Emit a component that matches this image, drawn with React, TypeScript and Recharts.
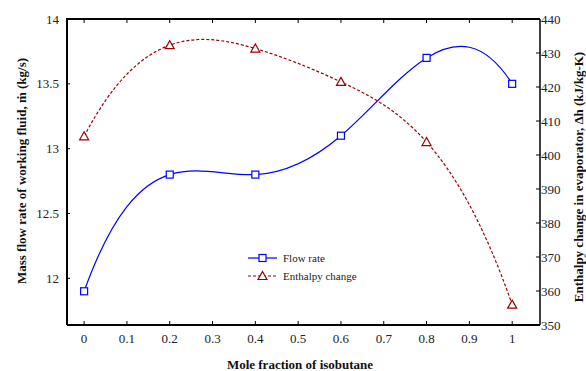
import { LineChart, Line, XAxis, YAxis } from "recharts";

const moleFraction = [0, 0.2, 0.4, 0.6, 0.8, 1];
const flowRate = [11.9, 12.8, 12.8, 13.1, 13.7, 13.5];
const enthalpyChange = [405.5, 432.3, 431.3, 421.5, 403.8, 356];

const xTicks = [0, 0.1, 0.2, 0.3, 0.4, 0.5, 0.6, 0.7, 0.8, 0.9, 1];
const flowTicks = [12, 12.5, 13, 13.5, 14];
const enthalpyTicks = [350, 360, 370, 380, 390, 400, 410, 420, 430, 440];

const X_DOMAIN = [-0.04, 1.065];
const PLOT = { left: 67, top: 19, width: 473, height: 306 };

const FONT = '"Liberation Serif", "Times New Roman", serif';
const BLUE = "#0000ff";
const RED = "#9b0000";

const chartData = moleFraction.map((x, i) => ({
  x,
  flow: flowRate[i],
  enthalpy: enthalpyChange[i],
}));

// cubic spline with not-a-knot ends (the original plot overshoots like this)
const solve = (A: number[][], b: number[]) => {
  const n = b.length;
  for (let c = 0; c < n; c++) {
    let p = c;
    for (let r = c + 1; r < n; r++) if (Math.abs(A[r][c]) > Math.abs(A[p][c])) p = r;
    [A[c], A[p]] = [A[p], A[c]];
    [b[c], b[p]] = [b[p], b[c]];
    for (let r = c + 1; r < n; r++) {
      const f = A[r][c] / A[c][c];
      for (let k = c; k < n; k++) A[r][k] -= f * A[c][k];
      b[r] -= f * b[c];
    }
  }
  const m = new Array(n).fill(0);
  for (let r = n - 1; r >= 0; r--) {
    let s = b[r];
    for (let k = r + 1; k < n; k++) s -= A[r][k] * m[k];
    m[r] = s / A[r][r];
  }
  return m;
};

const notAKnot = (context: any) => {
  let xs: number[] = [];
  let ys: number[] = [];
  return {
    areaStart() {},
    areaEnd() {},
    lineStart() {
      xs = [];
      ys = [];
    },
    point(x: number, y: number) {
      xs.push(+x);
      ys.push(+y);
    },
    lineEnd() {
      const n = xs.length;
      if (!n) return;
      context.moveTo(xs[0], ys[0]);
      if (n < 4) {
        for (let i = 1; i < n; i++) context.lineTo(xs[i], ys[i]);
        return;
      }
      const h = xs.slice(1).map((x, i) => x - xs[i]);
      const A = Array.from({ length: n }, () => new Array(n).fill(0));
      const b = new Array(n).fill(0);
      A[0][0] = h[1];
      A[0][1] = -(h[0] + h[1]);
      A[0][2] = h[0];
      for (let i = 1; i < n - 1; i++) {
        A[i][i - 1] = h[i - 1];
        A[i][i] = 2 * (h[i - 1] + h[i]);
        A[i][i + 1] = h[i];
        b[i] = 6 * ((ys[i + 1] - ys[i]) / h[i] - (ys[i] - ys[i - 1]) / h[i - 1]);
      }
      A[n - 1][n - 3] = h[n - 2];
      A[n - 1][n - 2] = -(h[n - 3] + h[n - 2]);
      A[n - 1][n - 1] = h[n - 3];
      const M = solve(A, b);
      for (let i = 0; i < n - 1; i++) {
        const hi = h[i];
        const s = (ys[i + 1] - ys[i]) / hi;
        const d0 = s - (hi * (2 * M[i] + M[i + 1])) / 6;
        const d1 = s + (hi * (M[i] + 2 * M[i + 1])) / 6;
        context.bezierCurveTo(
          xs[i] + hi / 3,
          ys[i] + (d0 * hi) / 3,
          xs[i + 1] - hi / 3,
          ys[i + 1] - (d1 * hi) / 3,
          xs[i + 1],
          ys[i + 1]
        );
      }
    },
  };
};

const Square = (props: any) => {
  const { cx, cy } = props;
  if (cx == null || cy == null) return null;
  return <rect x={cx - 3.5} y={cy - 3.5} width={7} height={7} fill="#fff" stroke={BLUE} strokeWidth={1.2} />;
};

const Triangle = (props: any) => {
  const { cx, cy } = props;
  if (cx == null || cy == null) return null;
  return (
    <path
      d={`M${cx},${cy - 4.5} L${cx + 4.5},${cy + 3.5} L${cx - 4.5},${cy + 3.5} Z`}
      fill="#fff"
      stroke={RED}
      strokeWidth={1.2}
    />
  );
};

const AxisTitle = ({ px, py, rot, text }: any) => (
  <text
    x={px}
    y={py}
    transform={rot ? `rotate(${rot} ${px} ${py})` : undefined}
    textAnchor="middle"
    dominantBaseline="central"
    fontFamily={FONT}
    fontWeight="bold"
    fontSize={13}
    fill="#111"
  >
    {text}
  </text>
);

// serif tick labels; anchor depends on which axis
const makeTick = (anchor: "middle" | "end" | "start", baseline: string) => (props: any) => {
  const { x, y, payload } = props;
  return (
    <text x={x} y={y} textAnchor={anchor} dominantBaseline={baseline} fontFamily={FONT} fontSize={13} fill="#222">
      {payload.value}
    </text>
  );
};

const axisLine = { stroke: "#000", strokeWidth: 2 };

// top edge of the box, with small inward ticks like the bottom axis
const TopFrame = () => {
  const toX = (t: number) => PLOT.left + ((t - X_DOMAIN[0]) / (X_DOMAIN[1] - X_DOMAIN[0])) * PLOT.width;
  return (
    <svg
      width={586}
      height={40}
      style={{ position: "absolute", left: 0, top: 0, zIndex: 5, pointerEvents: "none", overflow: "visible" }}
    >
      <path d={`M${PLOT.left - 1},${PLOT.top}H${PLOT.left + PLOT.width}`} stroke="#000" strokeWidth={2} fill="none" />
      {xTicks.map((t) => (
        <path key={t} d={`M${toX(t)},${PLOT.top}V${PLOT.top + 4}`} stroke="#000" strokeWidth={1} fill="none" />
      ))}
    </svg>
  );
};

export default function App() {
  return (
    <div style={{ position: "absolute", left: 0, top: 0, width: 586, height: 371, background: "#fff", fontFamily: FONT }}>
      <LineChart width={586} height={371} data={chartData} margin={{ top: PLOT.top, right: 0, bottom: 0, left: 0 }}>
        <XAxis
          dataKey="x"
          type="number"
          domain={X_DOMAIN}
          ticks={xTicks}
          allowDataOverflow
          height={46}
          tick={makeTick("middle", "hanging")}
          tickSize={-4}
          tickMargin={12}
          tickLine={{ stroke: "#000" }}
          axisLine={axisLine}
          label={<AxisTitle px={300} py={364} text="Mole fraction of isobutane" />}
        />
        <YAxis
          yAxisId="left"
          domain={[11.64, 14]}
          ticks={flowTicks}
          allowDataOverflow
          width={PLOT.left}
          tick={makeTick("end", "central")}
          tickSize={-3}
          tickMargin={11}
          tickLine={{ stroke: "#000" }}
          axisLine={axisLine}
          label={<AxisTitle px={21} py={171} rot={-90} text="Mass flow rate of working fluid, ṁ (kg/s)" />}
        />
        <YAxis
          yAxisId="right"
          orientation="right"
          domain={[350, 440]}
          ticks={enthalpyTicks}
          allowDataOverflow
          width={46}
          tick={makeTick("start", "central")}
          tickSize={-4}
          tickMargin={5}
          tickLine={{ stroke: "#000" }}
          axisLine={{ stroke: "#000", strokeWidth: 1.5 }}
          label={<AxisTitle px={578} py={177} rot={-90} text="Enthalpy change in evaporator, Δh (kJ/kg-K)" />}
        />
        <Line
          yAxisId="left"
          dataKey="flow"
          type={notAKnot as any}
          stroke={BLUE}
          strokeWidth={1.2}
          dot={Square}
          activeDot={false}
          isAnimationActive={false}
        />
        <Line
          yAxisId="right"
          dataKey="enthalpy"
          type={notAKnot as any}
          stroke={RED}
          strokeWidth={1.2}
          strokeDasharray="3 2"
          dot={Triangle}
          activeDot={false}
          isAnimationActive={false}
        />
      </LineChart>
      <TopFrame />
      <svg width={140} height={40} style={{ position: "absolute", left: 245, top: 250, zIndex: 5 }}>
        <line x1={3} y1={8} x2={32} y2={8} stroke={BLUE} strokeWidth={1.2} />
        <Square cx={17.5} cy={8} />
        <text x={38} y={8} dominantBaseline="central" fontFamily={FONT} fontSize={11} fill="#222">
          Flow rate
        </text>
        <line x1={3} y1={26} x2={32} y2={26} stroke={RED} strokeWidth={1.2} strokeDasharray="3 2" />
        <Triangle cx={17.5} cy={26} />
        <text x={38} y={26} dominantBaseline="central" fontFamily={FONT} fontSize={11} fill="#222">
          Enthalpy change
        </text>
      </svg>
    </div>
  );
}
